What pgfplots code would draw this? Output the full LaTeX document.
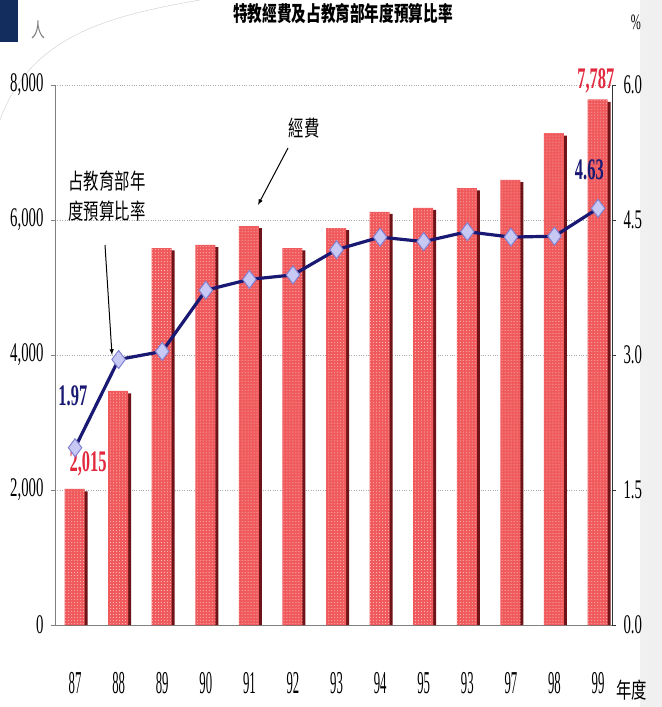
\documentclass[border=0pt]{standalone}
\usepackage{fontspec}
\setmainfont{Liberation Serif}
\newfontfamily\numf{Liberation Serif}[FakeStretch=0.55]
\newfontfamily\numx{Liberation Serif}[FakeStretch=0.4]
\newfontfamily\cjk{Noto Sans CJK TC}[FakeStretch=0.7]
\usepackage{pgfplots}
\pgfplotsset{compat=1.18}
\usetikzlibrary{patterns}
\definecolor{barred}{RGB}{240,90,92}
\definecolor{barshadow}{RGB}{110,20,25}
\definecolor{navyline}{RGB}{25,25,115}
\definecolor{lav}{RGB}{200,200,245}
\definecolor{lavedge}{RGB}{130,130,210}
\definecolor{labred}{RGB}{225,40,60}
\definecolor{gridgray}{RGB}{170,170,170}
\definecolor{slideblue}{RGB}{20,45,95}
\begin{document}
\begin{tikzpicture}
\useasboundingbox (0,0) rectangle (662bp,-707bp);
% slide decoration
\fill[gray!12] (640bp,0) rectangle (662bp,-707bp);
\fill[slideblue] (0,0) rectangle (18bp,-42bp);
\fill[white] (18bp,-707bp) -- (18bp,-60bp) to[out=90,in=180] (200bp,0) -- (640bp,0) -- (640bp,-707bp) -- cycle;
\draw[gray!40, thin] (0,-120bp) to[out=70,in=190] (200bp,0);
\begin{axis}[
  at={(55bp,-625bp)}, anchor=south west,
  width=557bp, height=540bp, scale only axis,
  xmin=86.54, xmax=99.32, ymin=0, ymax=8000,
  axis x line*=bottom, axis y line*=left,
  axis line style={gray, line width=0.8pt},
  xtick={87,...,99},
  xticklabels={87,88,89,90,91,92,93,94,95,93,97,98,99},
  xticklabel style={font=\numx\fontsize{32}{32}\selectfont, yshift=-40bp},
  major x tick style={draw=none},
  ytick={0,2000,4000,6000,8000},
  yticklabel style={font=\numf\fontsize{27}{27}\selectfont, xshift=-4bp},
  /pgf/number format/assume math mode=true,
  /pgf/number format/1000 sep={,},
  ymajorgrids, grid style={gridgray, dotted, line width=1pt},
  tick align=outside, major tick length=4bp,
  tick style={gray},
  clip=false,
]
\addplot[ybar, bar width=20bp, bar shift=2.5bp, fill=barshadow, draw=none]
  coordinates {(87,1980) (88,3430) (89,5550) (90,5600) (91,5880) (92,5550) (93,5850) (94,6090) (95,6150) (96,6440) (97,6560) (98,7250) (99,7750)};
\addplot[ybar, bar width=20bp, bar shift=-0.5bp, fill=barred, draw=none,
  postaction={pattern=dots, pattern color=white!70!barred}]
  coordinates {(87,2015) (88,3467) (89,5585) (90,5630) (91,5911) (92,5585) (93,5881) (94,6119) (95,6178) (96,6474) (97,6593) (98,7289) (99,7787)};
\node[text=labred, font=\numf\bfseries\fontsize{30}{30}\selectfont, anchor=south] at (axis cs:87.3,2160) {2,015};
\node[text=labred, font=\numf\bfseries\fontsize{30}{30}\selectfont, anchor=south] at (axis cs:98.95,7830) {7,787};
\end{axis}
\begin{axis}[
  at={(55bp,-625bp)}, anchor=south west,
  width=557bp, height=540bp, scale only axis,
  xmin=86.54, xmax=99.32, ymin=0, ymax=6,
  axis x line=none, axis y line*=right,
  axis line style={black!80, line width=0.8pt},
  ytick={0,1.5,3,4.5,6},
  yticklabel style={font=\numf\fontsize{27}{27}\selectfont, xshift=4bp},
  /pgf/number format/assume math mode=true,
  /pgf/number format/.cd, fixed, fixed zerofill, precision=1,
  /pgfplots/.cd,
  tick align=outside, major tick length=4bp,
  tick style={black!80},
  clip=false,
]
\addplot[navyline, line width=3.2pt, mark=diamond*, mark size=9bp,
  mark options={fill=lav, draw=lavedge, line width=1pt}]
  coordinates {(87,1.97) (88,2.95) (89,3.04) (90,3.72) (91,3.84) (92,3.89) (93,4.17) (94,4.31) (95,4.26) (96,4.37) (97,4.31) (98,4.32) (99,4.63)};
\node[text=navyline, font=\numf\bfseries\fontsize{30}{30}\selectfont] at (axis cs:86.95,2.55) {1.97};
\node[text=navyline, font=\numf\bfseries\fontsize{30}{30}\selectfont] at (axis cs:98.8,5.06) {4.63};
\end{axis}
% titles and annotations
\node[font=\cjk\bfseries\fontsize{21}{21}\selectfont] at (343bp,-14bp) {特教經費及占教育部年度預算比率};
\node[font=\cjk\fontsize{20}{20}\selectfont, gray] at (38bp,-30bp) {人};
\node[font=\numf\fontsize{22}{22}\selectfont] at (636bp,-22bp) {\%};
\node[font=\cjk\fontsize{22}{22}\selectfont, anchor=west] at (613bp,-690bp) {年度};
\node[font=\cjk\fontsize{22}{22}\selectfont] at (304bp,-128bp) {經費};
\draw[-{latex}, line width=1pt] (288bp,-148bp) -- (258bp,-205bp);
\node[font=\cjk\fontsize{22}{22}\selectfont, align=center] at (107bp,-196bp) {占教育部年\\[8bp]度預算比率};
\draw[-{latex}, line width=1pt] (105bp,-245bp) -- (112bp,-355bp);
\end{tikzpicture}
\end{document}
